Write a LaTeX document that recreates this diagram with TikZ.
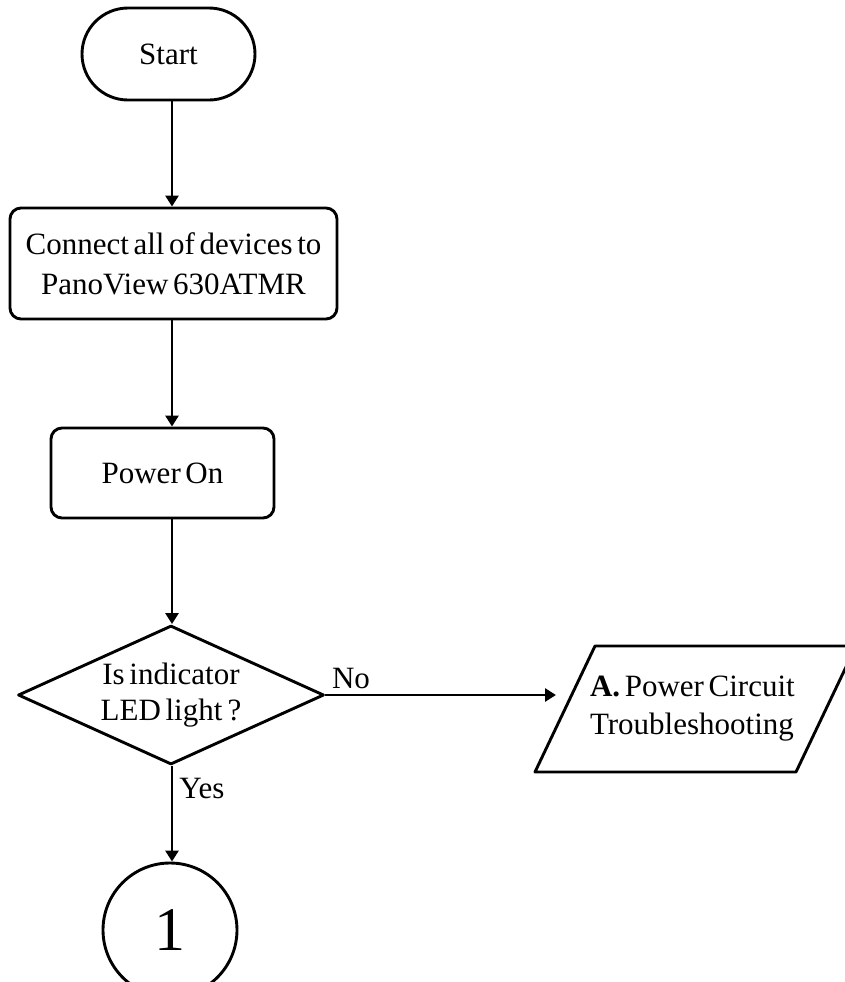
\documentclass[tikz,border=0pt]{standalone}
\usepackage{fontspec}
\setmainfont[WordSpace=0.6]{Liberation Serif}
\usetikzlibrary{arrows.meta,shapes.geometric}
\begin{document}
\begin{tikzpicture}[x=0.5pt,y=-0.5pt,
  every node/.style={font=\fontsize{15.5pt}{19pt}\selectfont},
  shapeline/.style={draw,line width=1.45pt,line join=round},
  terminal/.style={shapeline,rectangle,rounded corners=23pt,inner sep=0pt,
    minimum width=86.5pt,minimum height=46pt},
  process/.style={shapeline,rectangle,rounded corners=5.5pt,inner sep=0pt,align=center},
  decision/.style={shapeline,diamond,aspect=2.2,inner sep=0pt,align=center,
    minimum width=153pt,minimum height=69.5pt},
  connector/.style={shapeline,circle,inner sep=0pt,minimum size=67pt,
    font=\fontsize{31pt}{31pt}\selectfont},
  arr/.style={line width=1.45pt,-{Triangle[length=5.5pt,width=6.5pt]}}
]
\useasboundingbox (0,0) rectangle (845,982);

% main flow
\node[terminal] (start) at (168.5,54) {Start};
\node[process,minimum width=163.5pt,minimum height=55.5pt,
  font=\fontsize{15.5pt}{20pt}\selectfont] (connect) at (173.5,263.5)
  {Connect all of devices to\\PanoView 630ATMR};
\node[process,minimum width=111.5pt,minimum height=45pt] (power) at (162.5,473) {Power On};
\node[decision,font=\fontsize{15.5pt}{18pt}\selectfont] (led) at (171,695)
  {Is indicator\\LED light\,?};
\node[connector] (c1) at (170,930) {1};

% off-page branch: parallelogram for the power circuit procedure
\draw[shapeline] (535,772) -- (595,646) -- (856,646) -- (796,772) -- cycle;
\node[align=left,anchor=west] (trouble) at (583,709)
  {\textbf{A.} Power Circuit\\Troubleshooting};
\coordinate (tip) at (556,699);

% branch labels
\node (no) at (351,678) {No};
\node (yes) at (202,788) {Yes};

% connectors along the vertical axis
\coordinate (axis) at (172,0);
\draw[arr] (start.south -| axis) -- (connect.north -| axis);
\draw[arr] (connect.south -| axis) -- (power.north -| axis);
\draw[arr] (power.south -| axis) -- (led.north -| axis);
\draw[arr] (led.south -| axis) -- (c1.north -| axis);
\draw[arr] (led.east) -- (led.east -| tip);
\end{tikzpicture}
\end{document}
